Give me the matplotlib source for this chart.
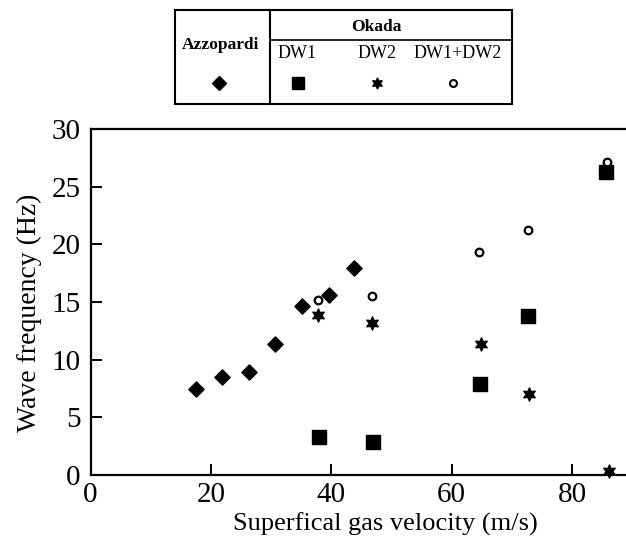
import matplotlib
matplotlib.use("Agg")
import matplotlib.pyplot as plt
from matplotlib.patches import Rectangle
from matplotlib.lines import Line2D

plt.rcParams['font.family'] = ['Liberation Serif', 'DejaVu Serif']

# Data
azz_x = [17.45, 21.9, 26.25, 30.7, 35.05, 39.6, 43.85]
azz_y = [7.49, 8.50, 8.90, 11.36, 14.62, 15.64, 17.95]
dw1_x = [37.9, 46.9, 64.75, 72.7, 85.7]
dw1_y = [3.27, 2.86, 7.86, 13.8, 26.25]
dw2_x = [37.8, 46.75, 64.9, 72.8, 86.2]
dw2_y = [13.84, 13.15, 11.33, 6.99, 0.35]
dw12_x = [37.8, 46.8, 64.6, 72.7, 85.75]
dw12_y = [15.14, 15.55, 19.34, 21.27, 27.1]

xticks = [0, 20, 40, 60, 80]
yticks = [0, 5, 10, 15, 20, 25, 30]

W, H = 626, 545
fig = plt.figure(figsize=(W/100, H/100), dpi=100)
ax = fig.add_axes([90.5/W, (H-475)/H, 1 - 90.5/W, (475-129)/H])

star6 = (6, 1, 0)
ax.scatter(azz_x, azz_y, marker='D', s=60, c='black', zorder=3, clip_on=False)
ax.scatter(dw1_x, dw1_y, marker='s', s=110, c='black', zorder=3, clip_on=False)
ax.scatter(dw2_x, dw2_y, marker=star6, s=90, c='black', zorder=3, clip_on=False)
ax.scatter(dw12_x, dw12_y, marker='o', s=30, facecolors='white', edgecolors='black',
           linewidths=1.6, zorder=3, clip_on=False)

ax.set_xlim(0, (W - 90.5) / 6.02)
ax.set_ylim(0, 30)
ax.set_xticks(xticks)
ax.set_yticks(yticks)
ax.spines['right'].set_visible(False)
for s in ['left', 'bottom', 'top']:
    ax.spines[s].set_linewidth(1.6)
ax.tick_params(direction='in', length=8, width=1.4, labelsize=21, pad=5)
ax.tick_params(axis='y', pad=7)
ax.set_xlabel('Superfical gas velocity (m/s)', fontsize=19)
ax.set_ylabel('Wave frequency (Hz)', fontsize=20)
ax.xaxis.set_label_coords(0.55, -0.108)
ax.yaxis.set_label_coords(-0.09, 0.47)

# Legend table (figure pixel coords, y from top)
def fx(px):
    return px / W

def fy(py):
    return 1 - py / H

left, right, top, bot = 175, 512, 10, 104
div = 270
hline = 40
fig.add_artist(Rectangle((fx(left), fy(bot)), fx(right) - fx(left), fy(top) - fy(bot),
                         transform=fig.transFigure, fill=False, lw=1.5, ec='black'))
fig.add_artist(Line2D([fx(div), fx(div)], [fy(top), fy(bot)], transform=fig.transFigure,
                      lw=1.5, color='black'))
fig.add_artist(Line2D([fx(div), fx(right)], [fy(hline), fy(hline)], transform=fig.transFigure,
                      lw=1.2, color='black'))
fig.text(fx(221), fy(45), 'Azzopardi', fontsize=12.5, fontweight='bold', ha='center', va='center')
fig.text(fx(376), fy(27), 'Okada', fontsize=12.5, fontweight='bold', ha='center', va='center')
fig.text(fx(297), fy(53), 'DW1', fontsize=13, ha='center', va='center')
fig.text(fx(377), fy(53), 'DW2', fontsize=13, ha='center', va='center')
fig.text(fx(458), fy(53), 'DW1+DW2', fontsize=13, ha='center', va='center')
my = 83
fig.add_artist(Line2D([fx(219)], [fy(my)], transform=fig.transFigure, marker='D',
                      markersize=7, color='black', lw=0))
fig.add_artist(Line2D([fx(298)], [fy(my)], transform=fig.transFigure, marker='s',
                      markersize=9, color='black', lw=0))
fig.add_artist(Line2D([fx(377)], [fy(my)], transform=fig.transFigure, marker=star6,
                      markersize=8, color='black', lw=0))
fig.add_artist(Line2D([fx(453)], [fy(my)], transform=fig.transFigure, marker='o',
                      markersize=5, mfc='white', mec='black', mew=1.5, lw=0))

fig.savefig('out.png', dpi=100)
